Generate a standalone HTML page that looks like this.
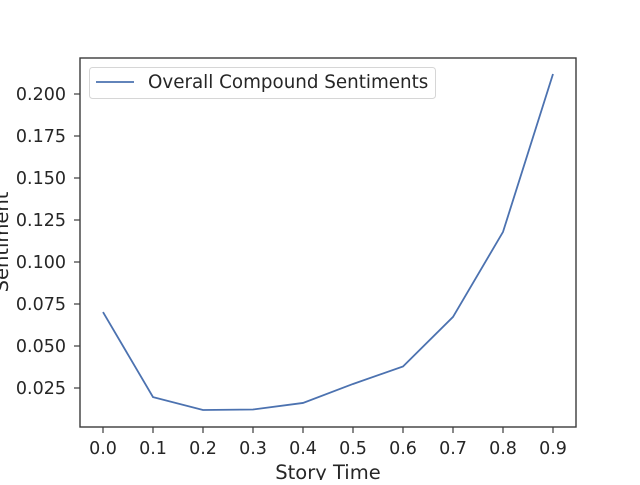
<!DOCTYPE html>
<html><head><meta charset="utf-8"><style>
body{margin:0;background:#fff}
svg text{font-family:"DejaVu Sans","Liberation Sans",sans-serif;fill:#262626}
</style></head><body>
<svg id="chart" width="640" height="480" xmlns="http://www.w3.org/2000/svg">
<rect width="640" height="480" fill="#fff"/>
<g id="plot"></g>
</svg>
<script>
const xValues=[0.0,0.1,0.2,0.3,0.4,0.5,0.6,0.7,0.8,0.9];
const sentiments=[0.0702,0.0196,0.0119,0.0122,0.0161,0.0274,0.0378,0.0673,0.1179,0.2119];
const xTicks=[0.0,0.1,0.2,0.3,0.4,0.5,0.6,0.7,0.8,0.9];
const xTickLabels=["0.0","0.1","0.2","0.3","0.4","0.5","0.6","0.7","0.8","0.9"];
const yTicks=[0.025,0.05,0.075,0.1,0.125,0.15,0.175,0.2];
const yTickLabels=["0.025","0.050","0.075","0.100","0.125","0.150","0.175","0.200"];
const L=80,R=576,T=58,B=427;
const x=v=>103+(v-0)*500;
const y=v=>94+(0.2-v)*1680;
const ns="http://www.w3.org/2000/svg";
const g=document.getElementById('plot');
function mk(t,a){const e=document.createElementNS(ns,t);for(const k in a)e.setAttribute(k,a[k]);g.appendChild(e);return e;}
xTicks.forEach((v,i)=>{
 const tk=mk('line',{x1:x(v),x2:x(v),y1:B,y2:B+6,stroke:'#3b3b3b','stroke-width':1.2});
 
 
 const t=mk('text',{x:x(v),y:B+27,'text-anchor':'middle','font-size':17.5});
 t.textContent=xTickLabels[i];
 
 
});
yTicks.forEach((v,i)=>{
 const tk=mk('line',{x1:L-6,x2:L,y1:y(v),y2:y(v),stroke:'#3b3b3b','stroke-width':1.2});
 
 
 const t=mk('text',{x:L-14,y:y(v)+6,'text-anchor':'end','font-size':17.5});
 t.textContent=yTickLabels[i];
 
 
});
const line=mk('polyline',{points:xValues.map((v,i)=>x(v)+','+y(sentiments[i])).join(' '),fill:'none',stroke:'#4c72b0','stroke-width':1.8});


const frame=mk('rect',{x:L,y:T,width:R-L,height:B-T,fill:'none',stroke:'#3b3b3b','stroke-width':1.4});


const lg=mk('rect',{x:89.5,y:67.5,width:346,height:31,rx:3,fill:'#fff',stroke:'#d6d6d6','stroke-width':1});


const ll=mk('line',{x1:96,x2:134,y1:82,y2:82,stroke:'#4c72b0','stroke-width':1.8});


const lt=mk('text',{x:148,y:88,'font-size':18.3});
lt.textContent='Overall Compound Sentiments';


const xl=mk('text',{x:328,y:479,'text-anchor':'middle','font-size':19.5});
xl.textContent='Story Time';


const yl=mk('text',{x:0,y:0,'text-anchor':'middle','font-size':19.5,transform:'translate(8,242) rotate(-90)'});
yl.textContent='Sentiment';


</script>
</body></html>
